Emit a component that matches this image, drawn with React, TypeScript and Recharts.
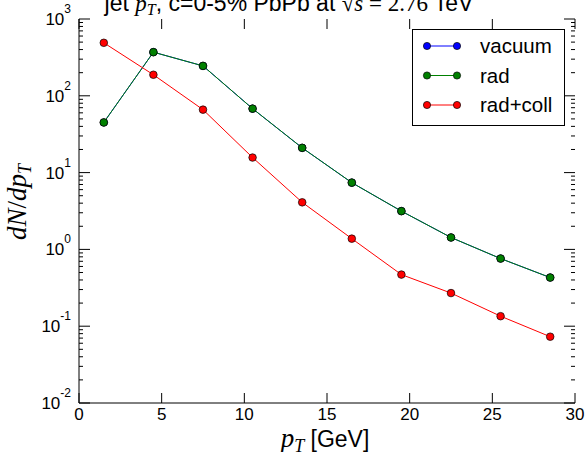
import React from 'react';
import { LineChart, Line, XAxis, YAxis } from 'recharts';

const pt = [1.5, 4.5, 7.5, 10.5, 13.5, 16.5, 19.5, 22.5, 25.5, 28.5];
const vacuum = [45, 370, 245, 68, 21, 7.4, 3.15, 1.43, 0.76, 0.43];
const rad = [45, 370, 245, 68, 21, 7.4, 3.15, 1.43, 0.76, 0.43];
const radColl = [490, 188, 66, 15.7, 4.1, 1.38, 0.47, 0.27, 0.135, 0.073];

const xTicks = [0, 5, 10, 15, 20, 25, 30];
const decades = [-2, -1, 0, 1, 2, 3];

const data = pt.map((x, i) => ({ x, vacuum: vacuum[i], rad: rad[i], radColl: radColl[i] }));

// major + minor log ticks
const yTicks: number[] = [];
decades.forEach((d) => {
    yTicks.push(Math.pow(10, d));
    if (d < 3) {
        for (let m = 2; m <= 9; m++) yTicks.push(m * Math.pow(10, d));
    }
});

const SANS = '"Liberation Sans", Arial, sans-serif';
const MATH = '"Liberation Serif", "DejaVu Serif", serif';

// plot box (from chart margins + axis sizes)
const PLOT_W = 496;
const PLOT_H = 384;

const isMajor = (v: number) => Math.abs(Math.log10(v) - Math.round(Math.log10(v))) < 1e-6;

// matplotlib-style inward ticks, mirrored on the opposite side
const BottomTick = ({ x, y, payload }: any) => (
    <g>
        <line x1={x} x2={x} y1={y} y2={y - 10} stroke="#000" />
        <line x1={x} x2={x} y1={y - PLOT_H} y2={y - PLOT_H + 10} stroke="#000" />
        <text x={x} y={y + 17} textAnchor="middle" fontFamily={SANS} fontSize={17} fill="#000">
            {payload.value}
        </text>
    </g>
);

const LeftTick = ({ x, y, payload }: any) => {
    const major = isMajor(payload.value);
    const exp = Math.round(Math.log10(payload.value));
    const len = major ? 11 : 4;
    return (
        <g>
            <line x1={x} x2={x + len} y1={y} y2={y} stroke="#000" />
            <line x1={x + PLOT_W} x2={x + PLOT_W - len} y1={y} y2={y} stroke="#000" />
            {major && (
                <text x={x - 8} y={y + 6} textAnchor="end" fontFamily={SANS} fontSize={17} fill="#000">
                    <tspan>10</tspan>
                    <tspan dy={-12} fontSize={12}>{exp}</tspan>
                </text>
            )}
        </g>
    );
};

const series = [
    { name: 'vacuum', color: '#0000ff' },
    { name: 'rad', color: '#008000' },
    { name: 'rad+coll', color: '#ff0000' },
];

const LegendBox = ({ x, y }: { x: number; y: number }) => (
    <g transform={`translate(${x},${y})`}>
        <rect x={0.5} y={0.5} width={152} height={96} fill="#fff" stroke="#000" />
        {series.map((s, i) => {
            const cy = 17 + i * 29.5;
            return (
                <g key={s.name}>
                    <line x1={15} x2={45} y1={cy} y2={cy} stroke={s.color} />
                    <circle cx={15} cy={cy} r={3.6} fill={s.color} stroke="#000" strokeWidth={0.7} />
                    <circle cx={45} cy={cy} r={3.6} fill={s.color} stroke="#000" strokeWidth={0.7} />
                    <text x={68} y={cy + 7} fontFamily={SANS} fontSize={20.5} fill="#000">{s.name}</text>
                </g>
            );
        })}
    </g>
);

const dot = (color: string) => ({ r: 3.8, fill: color, stroke: '#000', strokeWidth: 0.7 });

export default function App() {
    return (
        <div style={{ position: 'absolute', left: 0, top: 0, width: 586, height: 452, background: '#fff' }}>
            <LineChart
                width={586}
                height={452}
                data={data}
                margin={{ top: 19, right: 11, bottom: 19, left: 19 }}
            >
                <XAxis
                    xAxisId="b"
                    dataKey="x"
                    type="number"
                    domain={[0, 30]}
                    ticks={xTicks}
                    orientation="bottom"
                    height={30}
                    tickSize={0}
                    tickMargin={0}
                    tickLine={false}
                    axisLine={{ stroke: '#000' }}
                    tick={<BottomTick />}
                    interval={0}
                />
                <XAxis
                    xAxisId="t"
                    dataKey="x"
                    type="number"
                    domain={[0, 30]}
                    orientation="top"
                    height={0}
                    tickLine={false}
                    axisLine={{ stroke: '#000' }}
                    tick={false}
                />
                <YAxis
                    yAxisId="l"
                    scale="log"
                    domain={[0.01, 1000]}
                    allowDataOverflow
                    ticks={yTicks}
                    width={60}
                    tickSize={0}
                    tickMargin={0}
                    tickLine={false}
                    axisLine={{ stroke: '#000' }}
                    tick={<LeftTick />}
                    interval={0}
                />
                <YAxis
                    yAxisId="r"
                    orientation="right"
                    scale="log"
                    domain={[0.01, 1000]}
                    allowDataOverflow
                    width={0}
                    tickLine={false}
                    axisLine={{ stroke: '#000' }}
                    tick={false}
                />
                <Line xAxisId="b" yAxisId="l" dataKey="vacuum" name="vacuum" stroke="#0000ff" strokeWidth={1} dot={dot('#0000ff')} isAnimationActive={false} />
                <Line xAxisId="b" yAxisId="l" dataKey="rad" name="rad" stroke="#008000" strokeWidth={1} dot={dot('#008000')} isAnimationActive={false} />
                <Line xAxisId="b" yAxisId="l" dataKey="radColl" name="rad+coll" stroke="#ff0000" strokeWidth={1} dot={dot('#ff0000')} isAnimationActive={false} />
                <LegendBox x={412} y={29} />
                <text x={289} y={11} textAnchor="middle" fontFamily={SANS} fontSize={23} fill="#000">
                    <tspan>jet </tspan>
                    <tspan fontFamily={MATH} fontStyle="italic">p</tspan>
                    <tspan fontFamily={MATH} fontStyle="italic" fontSize={16} dy={4}>T</tspan>
                    <tspan dy={-4}>, c=0-5% PbPb at </tspan>
                    <tspan fontFamily={MATH}>√</tspan>
                    <tspan fontFamily={MATH} fontStyle="italic">s</tspan>
                    <tspan fontFamily={MATH}> = 2.76 </tspan>
                    <tspan>TeV</tspan>
                </text>
                <text x={325} y={447} textAnchor="middle" fontSize={23} fill="#000">
                    <tspan fontFamily={MATH} fontStyle="italic" fontSize={27}>p</tspan>
                    <tspan fontFamily={MATH} fontStyle="italic" fontSize={18} dy={5}>T</tspan>
                    <tspan fontFamily={SANS} dy={-5}> [GeV]</tspan>
                </text>
                <text
                    x={26}
                    y={202}
                    transform="rotate(-90 26 202)"
                    textAnchor="middle"
                    fontFamily={MATH}
                    fontStyle="italic"
                    fontSize={27}
                    fill="#000"
                >
                    <tspan>dN</tspan>
                    <tspan fontStyle="normal">/</tspan>
                    <tspan>dp</tspan>
                    <tspan fontSize={18} dy={5}>T</tspan>
                </text>
            </LineChart>
        </div>
    );
}
